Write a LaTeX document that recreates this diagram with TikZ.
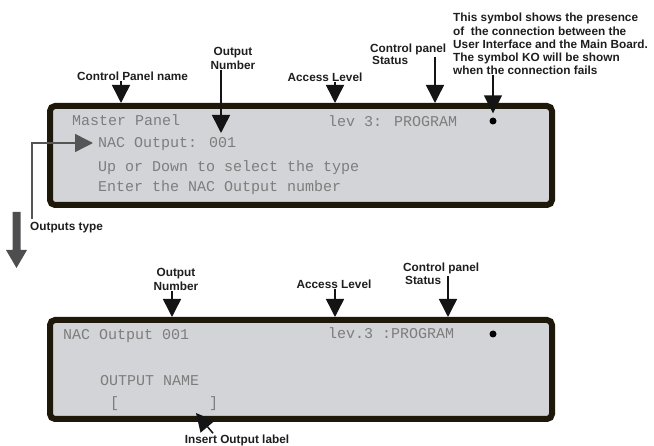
\documentclass[tikz,border=0pt]{standalone}
\usepackage{fontspec}
\setmainfont{Liberation Sans}
\newfontfamily\lcdfont{Liberation Mono}
\usetikzlibrary{arrows.meta}

\definecolor{lcdFrame}{RGB}{30,24,10}
\definecolor{lcdFill}{RGB}{210,212,215}
\definecolor{lcdText}{RGB}{125,125,125}
\definecolor{lblText}{RGB}{30,30,30}
\definecolor{lblLine}{RGB}{20,20,20}
\definecolor{typLine}{RGB}{85,85,85}
\definecolor{bigArrow}{RGB}{78,78,80}

\tikzset{
  panel/.style={line width=6pt, draw=lcdFrame, fill=lcdFill, rounded corners=5pt,
    minimum width=502pt, minimum height=99pt, inner sep=0pt},
  lcd/.style={anchor=base west, inner sep=0pt, text=lcdText,
    font=\lcdfont\fontsize{15}{18}\selectfont},
  lbl/.style={inner sep=0pt, text=lblText, font=\fontsize{11.8}{14}\selectfont\bfseries},
  callout/.style={draw=lblLine, line width=1.5pt, -{Triangle[width=18pt,length=18pt]}},
  linkdot/.style={circle, fill=black, inner sep=0pt, minimum size=7pt},
}

\begin{document}
\begin{tikzpicture}[x=1pt, y=-1pt]
  \useasboundingbox (0,0) rectangle (654,446);

  \node[panel] (pnlA) at (301,155.5) {};
  \node[lcd] (mstA) at (72,126) {Master Panel};
  \node[lcd] (levA) at (328,127) {lev 3: PROGRAM};
  \node[lcd] (nacA) at (98,148) {NAC Output: 001};
  \node[lcd] (updA) at (98,172) {Up or Down to select the type};
  \node[lcd] (entA) at (98,192) {Enter the NAC Output number};
  \node[linkdot] (lnkA) at (493,121) {};

  \node[lbl, anchor=base] (cpName) at (132.5,81) {Control Panel name};
  \node[lbl, anchor=base, align=center] (outA) at (233,70) {Output\\Number};
  \node[lbl, anchor=base] (accA) at (325,82) {Access Level};
  \node[lbl, anchor=base west, align=left, font=\fontsize{11.8}{12}\selectfont\bfseries] (stA) at (370,65) {Control panel\\\,Status};
  \node[lbl, anchor=base west, align=left, font=\fontsize{11.8}{13.2}\selectfont\bfseries] (note) at (453,74.8)
    {This symbol shows the presence\\of\ \ the connection between the\\User Interface and the Main Board.\\The symbol KO will be shown\\when the connection fails};
  \node[lbl, anchor=base west] (typ) at (30,231) {Outputs type};

  \coordinate (tipName) at (121,103);
  \coordinate (tipOutA) at (221,133);
  \coordinate (tipAccA) at (335,103);
  \coordinate (tipStA) at (435,103);
  \coordinate (tipTyp) at (93,143);

  \draw[callout] (cpName.south -| tipName) -- (tipName);
  \draw[callout] (outA.south -| tipOutA) -- (tipOutA);
  \draw[callout] (accA.south -| tipAccA) -- (tipAccA);
  \draw[callout] ([yshift=8pt]stA.base -| tipStA) -- (tipStA);
  \draw[callout, shorten >=4pt] (note.south -| lnkA) -- (lnkA.north);
  \draw[callout, draw=typLine] ([xshift=2pt,yshift=4pt]typ.north west) |- (tipTyp);

  \fill[bigArrow] (12.5,212) -- (20.5,212) -- (20.5,250) -- (27,250) -- (16.5,268) -- (6,250) -- (12.5,250) -- cycle;

  \node[panel] (pnlB) at (301,369.5) {};
  \node[lcd] (nacB) at (63,340) {NAC Output 001};
  \node[lcd] (levB) at (328,339) {lev.3 :PROGRAM};
  \node[lcd] (namB) at (100,386) {OUTPUT NAME};
  \node[lcd] (brkB) at (110,408) {[~~~~~~~~~~]};
  \node[linkdot] (lnkB) at (493,334) {};

  \node[lbl, anchor=base, align=center] (outB) at (176,291) {Output\\Number};
  \node[lbl, anchor=base] (accB) at (334,289) {Access Level};
  \node[lbl, anchor=base west, align=left, font=\fontsize{11.8}{13}\selectfont\bfseries] (stB) at (403,285) {Control panel\\\,Status};
  \node[lbl, anchor=base] (ins) at (237,444) {Insert Output label};

  \coordinate (tipOutB) at (172,317);
  \coordinate (tipAccB) at (335,317);
  \coordinate (tipStB) at (448,317);
  \coordinate (tipIns) at (196,413);

  \draw[callout] (outB.south -| tipOutB) -- (tipOutB);
  \draw[callout] (accB.south -| tipAccB) -- (tipAccB);
  \draw[callout] ([yshift=9pt]stB.base -| tipStB) -- (tipStB);
  \draw[callout] ([xshift=-24pt,yshift=2pt]ins.north) -- (tipIns);
\end{tikzpicture}
\end{document}
